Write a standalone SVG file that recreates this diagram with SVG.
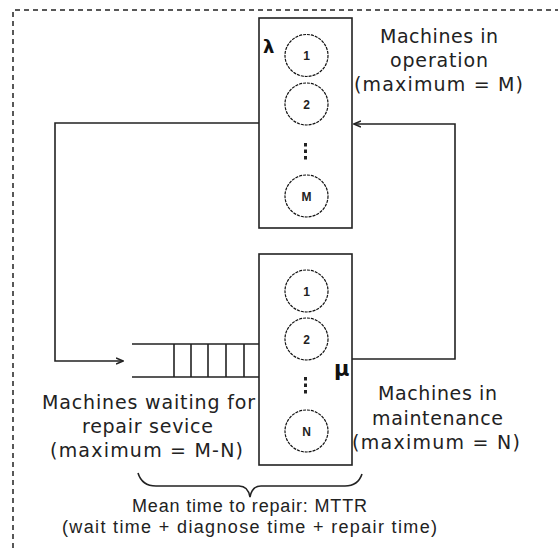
<svg xmlns="http://www.w3.org/2000/svg" width="558" height="548" viewBox="0 0 558 548">
<defs>
<style>
.frame{fill:none;stroke:#222;stroke-width:1.5;stroke-dasharray:5,4}
.box{fill:#fff;stroke:#222;stroke-width:1.6}
.ln{fill:none;stroke:#222;stroke-width:1.6}
.mach{fill:#fff;stroke:#111;stroke-width:1.2;stroke-dasharray:3,1}
.num{font-family:"Liberation Sans",Arial,sans-serif;font-size:12px;font-weight:bold;fill:#222;text-anchor:middle}
.lbl{font-family:"DejaVu Sans",Verdana,sans-serif;font-size:19px;fill:#222;text-anchor:middle}
.note{font-family:"Liberation Sans",Arial,sans-serif;font-size:18px;fill:#222;text-anchor:middle}
.greek{font-family:"DejaVu Sans",sans-serif;font-weight:bold;fill:#111}
.dot{fill:#222}
</style>
<marker id="arr" viewBox="0 0 8 8" refX="7" refY="4" markerWidth="8" markerHeight="8" markerUnits="userSpaceOnUse" orient="auto">
<path d="M0,1 L7,4 L0,7" fill="none" stroke="#222" stroke-width="1.6"/>
</marker>
</defs>
<rect width="558" height="548" fill="#fff"/>
<path class="frame" d="M13,548 V10 H558"/>

<g id="connectors">
<path class="ln" d="M259,123 H55 V361 H123" marker-end="url(#arr)"/>
<path class="ln" d="M352,359 H455 V124 H354" marker-end="url(#arr)"/>
</g>

<g id="operation">
<rect class="box" x="259" y="18" width="93" height="210"/>
<text class="greek" x="263" y="53" font-size="18">λ</text>
<ellipse class="mach" cx="306.5" cy="55.5" rx="21.5" ry="21"/>
<text class="num" x="306.5" y="60">1</text>
<ellipse class="mach" cx="306.5" cy="104" rx="21.5" ry="21"/>
<text class="num" x="306.5" y="108.5">2</text>
<rect class="dot" x="304" y="143" width="3" height="3.5"/>
<rect class="dot" x="304" y="149.5" width="3" height="3.5"/>
<rect class="dot" x="304" y="156" width="3" height="3.5"/>
<ellipse class="mach" cx="306.5" cy="196" rx="21.5" ry="21"/>
<text class="num" x="306.5" y="200.5">M</text>
</g>

<g id="maintenance">
<rect class="box" x="259" y="254" width="93" height="211"/>
<ellipse class="mach" cx="306.5" cy="291" rx="21.5" ry="21"/>
<text class="num" x="306.5" y="295.5">1</text>
<ellipse class="mach" cx="306.5" cy="339" rx="21.5" ry="21"/>
<text class="num" x="306.5" y="343.5">2</text>
<rect class="dot" x="304" y="377" width="3" height="3.5"/>
<rect class="dot" x="304" y="383.5" width="3" height="3.5"/>
<rect class="dot" x="304" y="390" width="3" height="3.5"/>
<ellipse class="mach" cx="306.5" cy="431" rx="21.5" ry="21"/>
<text class="num" x="306.5" y="435.5">N</text>
<text class="greek" x="334" y="376" font-size="21">μ</text>
</g>

<g id="queue">
<path class="ln" d="M132,344 H259 M132,377 H259 M174,344 V377 M191,344 V377 M208,344 V377 M226,344 V377 M244,344 V377"/>
</g>

<g id="label-operation">
<text class="lbl" x="439" y="43" textLength="118" lengthAdjust="spacing">Machines in</text>
<text class="lbl" x="439" y="67" textLength="98" lengthAdjust="spacing">operation</text>
<text class="lbl" x="438.5" y="91" textLength="169" lengthAdjust="spacing">(maximum = M)</text>
</g>

<g id="label-waiting">
<text class="lbl" x="148.5" y="409" textLength="213" lengthAdjust="spacing">Machines waiting for</text>
<text class="lbl" x="147.5" y="433" textLength="131" lengthAdjust="spacing">repair sevice</text>
<text class="lbl" x="146.5" y="457" textLength="193" lengthAdjust="spacing">(maximum = M-N)</text>
</g>

<g id="label-maintenance">
<text class="lbl" x="437.5" y="400" textLength="119" lengthAdjust="spacing">Machines in</text>
<text class="lbl" x="437.5" y="425" textLength="131" lengthAdjust="spacing">maintenance</text>
<text class="lbl" x="436" y="449" textLength="168" lengthAdjust="spacing">(maximum = N)</text>
</g>

<g id="mttr">
<path class="ln" stroke-width="1.4" d="M138,473 Q142,486 156,486 L239,486 Q248,486 250,497 Q252,486 261,486 L345,486 Q358,486 362,474"/>
<text class="note" x="249.5" y="512" textLength="235" lengthAdjust="spacing">Mean time to repair: MTTR</text>
<text class="note" x="249.5" y="533" textLength="375" lengthAdjust="spacing">(wait time + diagnose time + repair time)</text>
</g>
</svg>
